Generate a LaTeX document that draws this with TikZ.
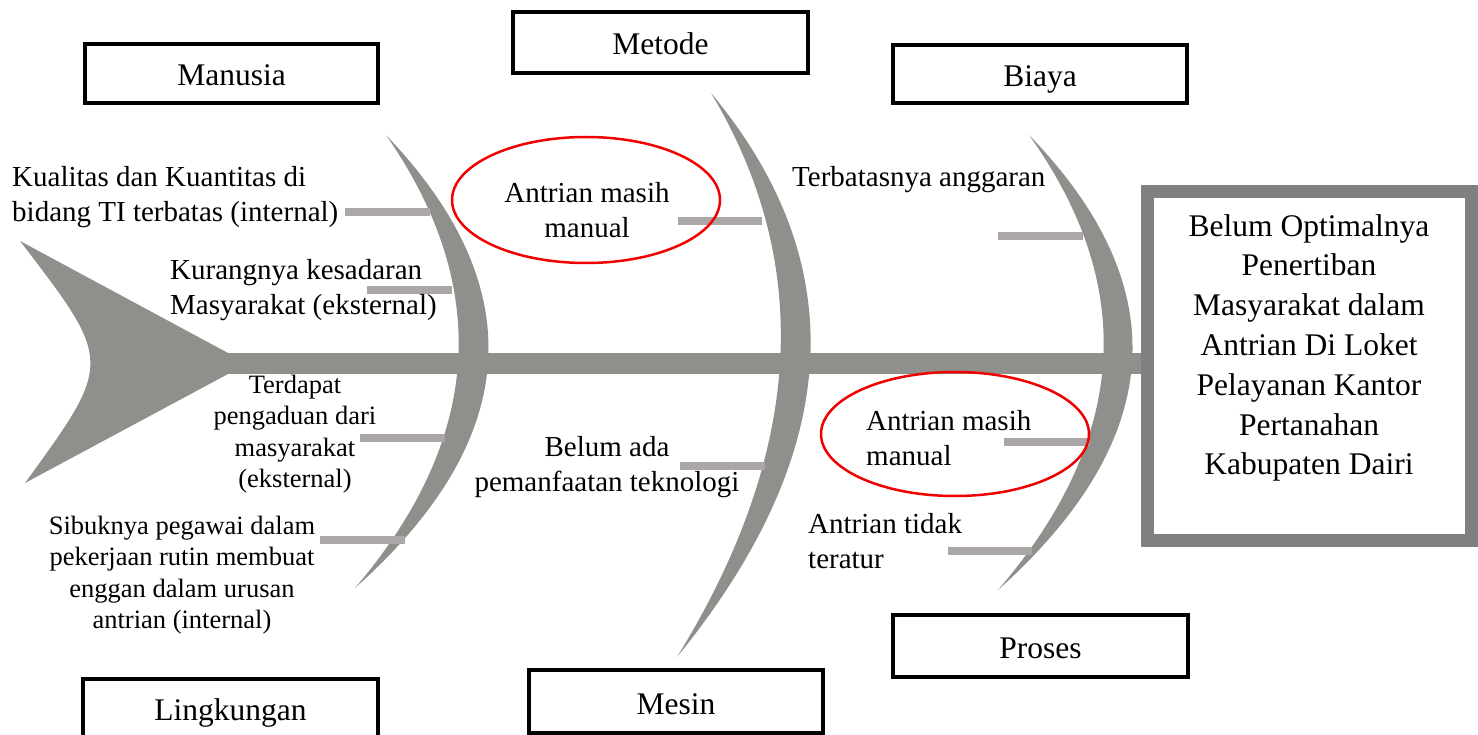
\documentclass[tikz,border=0pt]{standalone}
\usepackage{fontspec}
\setmainfont{Liberation Serif}
\definecolor{bonegray}{RGB}{143,143,139}
\definecolor{bargray}{RGB}{171,167,167}
\definecolor{effgray}{RGB}{128,128,128}
\definecolor{ellred}{RGB}{240,0,0}
\begin{document}
\begin{tikzpicture}[x=1pt,y=-1pt,
  bone/.style={fill=bonegray},
  bar/.style={draw=bargray,line width=8pt},
  catbox/.style={draw=black,line width=4pt,fill=white,minimum width=292pt,inner sep=0pt,
     font=\fontsize{31.5}{36}\selectfont,text height=30pt,text depth=5pt},
  lbl/.style={inner sep=0pt,font=\fontsize{29}{34.5}\selectfont},
  lblsmall/.style={inner sep=0pt,font=\fontsize{26.5}{31.5}\selectfont}
]
\useasboundingbox (0,0) rectangle (1478,735);
% tail and spine
\fill[bone] (20,241) -- (228,353) -- (228,374) -- (25,483) .. controls (113,362) .. (20,241) -- cycle;
\fill[bone] (220,353) rectangle (1141,374);
% bones (quadratic arcs written as cubics)
\fill[bone] (386,135) .. controls (532.3,288) and (522,439) .. (355,588)
            .. controls (482,439) and (492.3,288) .. (386,135) -- cycle;
\fill[bone] (711,93) .. controls (854.3,265) and (843,453) .. (677,657)
            .. controls (803,453) and (814.3,265) .. (711,93) -- cycle;
\fill[bone] (1029,135) .. controls (1176.7,287.3) and (1166.3,439) .. (998,590)
            .. controls (1127.7,439) and (1138,287.3) .. (1029,135) -- cycle;
% small bars
\coordinate (b1a) at (345,212); \coordinate (b1b) at (430,212);
\coordinate (b2a) at (367,290); \coordinate (b2b) at (452,290);
\coordinate (b3a) at (360,438); \coordinate (b3b) at (445,438);
\coordinate (b4a) at (320,540); \coordinate (b4b) at (405,540);
\coordinate (b5a) at (678,221); \coordinate (b5b) at (762,221);
\coordinate (b6a) at (680,466); \coordinate (b6b) at (765,466);
\coordinate (b7a) at (998,236); \coordinate (b7b) at (1083,236);
\coordinate (b8a) at (1004,442); \coordinate (b8b) at (1090,442);
\coordinate (b9a) at (948,551); \coordinate (b9b) at (1032,551);
\foreach \i in {1,...,9} { \draw[bar] (b\i a) -- (b\i b); }
% red ellipses
\draw[draw=ellred,line width=2.5pt] (586,200) ellipse [x radius=134, y radius=63];
\draw[draw=ellred,line width=2.5pt] (955,434) ellipse [x radius=134, y radius=62];
% effect box
\draw[draw=effgray,line width=13pt,fill=white] (1147,191.5) rectangle (1471.5,540);
\node[inner sep=0pt,align=center,font=\fontsize{31.5}{39.8}\selectfont] (effect) at (1309,348)
  {Belum Optimalnya\\Penertiban\\Masyarakat dalam\\Antrian Di Loket\\Pelayanan Kantor\\Pertanahan\\Kabupaten Dairi};
% category boxes
\node[catbox,minimum width=293pt,minimum height=59pt] (manusia) at (231.5,73.5) {Manusia};
\node[catbox,minimum width=295pt,minimum height=61pt] (metode) at (660.5,42.5) {Metode};
\node[catbox,minimum width=294pt,minimum height=58pt] (biaya) at (1040,74) {Biaya};
\node[catbox,minimum width=295pt,minimum height=62pt] (proses) at (1040.5,646) {Proses};
\node[catbox,minimum width=294pt,minimum height=63pt] (mesin) at (676,701.5) {Mesin};
\node[catbox,minimum width=295pt,minimum height=90pt,anchor=north] (lingbox) at (230.5,677) {};
\node[inner sep=0pt,font=\fontsize{31.5}{36}\selectfont] (lingkungan) at (230.5,713) {Lingkungan};
% cause labels
\node[lbl,align=left,anchor=west] (kual) at (12,197) {Kualitas dan Kuantitas di\\bidang TI terbatas (internal)};
\node[lbl,align=left,anchor=west] (kur) at (170,290) {Kurangnya kesadaran\\Masyarakat (eksternal)};
\node[lblsmall,align=center] (terd) at (295,434) {Terdapat\\pengaduan dari\\masyarakat\\(eksternal)};
\node[lblsmall,align=center] (sibuk) at (182,575) {Sibuknya pegawai dalam\\pekerjaan rutin membuat\\enggan dalam urusan\\antrian (internal)};
\node[lbl,align=center] (man1) at (587,210) {Antrian masih\\manual};
\node[lbl,align=center] (belum) at (607,467) {Belum ada\\pemanfaatan teknologi};
\node[lbl,anchor=west] (terb) at (792,180) {Terbatasnya anggaran};
\node[lbl,align=left,anchor=west] (man2) at (866,438) {Antrian masih\\manual};
\node[lbl,align=left,anchor=west] (tidak) at (808,541) {Antrian tidak\\teratur};
\end{tikzpicture}
\end{document}
